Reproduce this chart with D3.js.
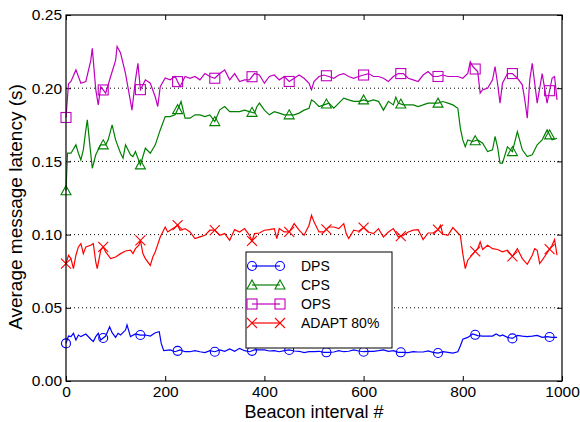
<!DOCTYPE html>
<html>
<head>
<meta charset="utf-8">
<script src="https://cdn.jsdelivr.net/npm/d3@7"></script>
<style>
  body { margin: 0; background: #fff; }
  svg { display: block; }
  text { font-family: "Liberation Sans", Arial, sans-serif; }
</style>
</head>
<body>
<div class="chart"></div>
<script>
// [beacon interval, latency (s)]
const dps = [[0,.0257],[5,.0307],[10,.0303],[15,.0326],[20,.028],[25,.0314],[30,.0303],[40,.0321],[50,.0285],[55,.0269],[60,.0303],[65,.0326],[70,.028],[80,.0307],[88,.0371],[93,.033],[100,.0298],[105,.0326],[110,.0314],[120,.0348],[123,.0383],[130,.0303],[140,.0321],[150,.0314],[160,.0314],[170,.0307],[180,.033],[188,.0337],[192,.0257],[197,.0207],[210,.0212],[220,.02],[230,.0212],[240,.02],[250,.02],[260,.0207],[270,.02],[280,.0194],[290,.0207],[300,.02],[310,.0212],[320,.0203],[330,.0219],[340,.0203],[350,.0223],[360,.0207],[370,.02],[380,.0212],[390,.0212],[400,.0212],[410,.0205],[420,.0207],[430,.02],[440,.0207],[450,.0212],[460,.0205],[470,.0203],[480,.0194],[490,.02],[500,.02],[510,.0203],[520,.0196],[530,.0196],[540,.0198],[550,.0207],[560,.02],[570,.0203],[580,.0212],[590,.0205],[600,.02],[610,.0203],[620,.0203],[630,.0207],[640,.0212],[650,.0203],[660,.0207],[670,.0196],[680,.0196],[690,.0194],[700,.02],[710,.0198],[720,.0198],[730,.0205],[740,.0196],[750,.0191],[760,.02],[770,.0196],[780,.0191],[790,.02],[795,.0239],[800,.0285],[810,.0298],[820,.0321],[830,.031],[840,.0307],[850,.0307],[860,.0307],[867,.0321],[875,.0307],[880,.0314],[890,.0298],[900,.0291],[910,.0312],[920,.0307],[930,.0303],[940,.0307],[950,.0312],[960,.0298],[970,.0303],[980,.0298],[990,.0298]]

const cps = [[0,.13],[3,.1556],[10,.1556],[20,.1613],[25,.1556],[30,.151],[35,.158],[40,.1715],[43,.1784],[47,.1647],[53,.1453],[60,.1545],[70,.1613],[80,.1613],[85,.1647],[93,.175],[100,.1647],[110,.1556],[115,.1522],[120,.1613],[130,.1545],[135,.1533],[140,.1567],[150,.1476],[160,.159],[170,.1556],[180,.1613],[190,.1715],[200,.1806],[210,.1806],[220,.1818],[228,.1875],[232,.1909],[240,.1795],[250,.1795],[260,.1818],[270,.1818],[280,.1806],[290,.1818],[300,.1772],[310,.1852],[320,.1875],[330,.184],[340,.184],[350,.184],[360,.185],[370,.184],[380,.183],[385,.1875],[390,.1898],[400,.185],[410,.1818],[420,.184],[430,.183],[440,.1818],[450,.1818],[460,.1818],[470,.183],[480,.185],[490,.1863],[495,.192],[500,.191],[510,.1875],[520,.1886],[530,.1898],[540,.1863],[550,.1898],[560,.1932],[570,.192],[580,.191],[590,.191],[600,.192],[610,.191],[620,.192],[630,.191],[640,.185],[650,.191],[660,.1886],[665,.1939],[670,.1898],[680,.1886],[690,.1886],[700,.1886],[710,.1875],[720,.1886],[730,.1898],[740,.1898],[750,.1898],[760,.1909],[770,.1898],[780,.1886],[790,.1863],[795,.1727],[800,.1647],[805,.16],[810,.1647],[820,.1636],[830,.1647],[840,.1624],[850,.1567],[860,.1579],[865,.167],[870,.16],[875,.1488],[880,.1488],[890,.16],[900,.1567],[910,.1704],[920,.1579],[930,.1533],[940,.1545],[950,.1613],[960,.1647],[970,.1715],[980,.1647],[990,.1658]]

const ops = [[0,.18],[5,.203],[10,.2046],[20,.2125],[30,.2034],[40,.2046],[50,.219],[53,.2273],[60,.199],[65,.1886],[70,.201],[80,.1966],[90,.208],[100,.219],[103,.2285],[110,.224],[120,.21],[130,.191],[133,.185],[140,.2057],[145,.217],[150,.199],[160,.2057],[170,.2034],[180,.194],[185,.1875],[190,.201],[200,.207],[210,.2057],[220,.208],[230,.201],[240,.208],[250,.2068],[260,.208],[270,.2057],[280,.21],[290,.208],[300,.2068],[310,.21],[320,.2125],[330,.2057],[340,.21],[350,.2046],[360,.2057],[370,.2057],[380,.21],[390,.209],[400,.2034],[410,.208],[420,.209],[430,.2057],[440,.208],[450,.2046],[460,.2068],[470,.209],[480,.2068],[490,.2034],[495,.199],[500,.2046],[510,.208],[520,.209],[530,.208],[540,.2068],[550,.209],[560,.21],[570,.208],[580,.2068],[590,.208],[600,.209],[610,.21],[620,.208],[630,.208],[640,.2068],[650,.2046],[660,.208],[670,.21],[680,.21],[690,.2068],[700,.2057],[710,.2046],[720,.209],[730,.2114],[740,.208],[750,.208],[760,.209],[770,.208],[780,.208],[790,.208],[800,.2068],[810,.21],[815,.218],[820,.2148],[830,.2114],[835,.1966],[840,.199],[850,.2],[860,.2057],[865,.2148],[870,.2034],[875,.1898],[880,.2034],[890,.21],[900,.21],[910,.2068],[920,.2023],[925,.192],[930,.1795],[935,.2057],[940,.217],[945,.2034],[950,.1898],[960,.21],[970,.1898],[980,.2068],[985,.208],[990,.192]]

const adapt = [[0,.0802],[5,.0859],[10,.0836],[15,.0768],[20,.0859],[25,.0916],[30,.0939],[35,.087],[40,.0916],[50,.0927],[55,.0939],[60,.0813],[63,.0768],[70,.0893],[75,.0916],[80,.0882],[90,.0836],[100,.0847],[110,.087],[120,.0888],[130,.0893],[135,.087],[140,.0904],[147,.0927],[150,.0961],[155,.087],[160,.0836],[170,.079],[175,.0847],[180,.0882],[190,.0984],[200,.1052],[205,.1018],[210,.103],[220,.1052],[225,.1064],[230,.103],[240,.1041],[250,.1018],[260,.0973],[270,.0984],[280,.0995],[290,.103],[300,.103],[310,.0995],[320,.1007],[330,.0961],[340,.1034],[350,.1018],[360,.1041],[370,.0995],[375,.0957],[380,.1007],[390,.1011],[400,.103],[410,.1034],[420,.1041],[425,.0973],[430,.1041],[440,.1018],[450,.1018],[460,.1075],[470,.103],[480,.0995],[490,.1064],[495,.1132],[500,.1087],[510,.1018],[520,.1018],[530,.1052],[540,.1052],[550,.1041],[560,.1075],[565,.1007],[570,.0973],[580,.103],[590,.1023],[600,.1048],[610,.1018],[620,.1007],[630,.1041],[640,.0984],[650,.1018],[660,.1041],[670,.0984],[680,.0995],[690,.1018],[700,.103],[710,.1034],[720,.0966],[730,.1011],[740,.1011],[750,.1034],[755,.1064],[760,.1002],[770,.0995],[780,.1048],[790,.1011],[795,.0995],[800,.087],[805,.0768],[810,.0825],[820,.0866],[830,.0904],[835,.095],[840,.0898],[850,.0927],[860,.0904],[870,.0898],[880,.0882],[890,.0893],[900,.0852],[910,.0904],[920,.0836],[930,.0797],[940,.0859],[945,.0904],[950,.0893],[955,.0802],[960,.0825],[970,.0875],[980,.0927],[985,.0966],[990,.0859]]

const seriesNames = ["DPS", "CPS", "OPS", "ADAPT 80%"]
const xTicks = [0, 200, 400, 600, 800, 1000]
const yTicks = [0, 0.05, 0.10, 0.15, 0.20, 0.25]
const markerEvery = 75

const series = [
  {name: seriesNames[0], data: dps, color: "#0000ff", mark: "circle"},
  {name: seriesNames[1], data: cps, color: "#008000", mark: "triangle"},
  {name: seriesNames[2], data: ops, color: "#bf00bf", mark: "square"},
  {name: seriesNames[3], data: adapt, color: "#ff0000", mark: "x"}
]

const margin = {top: 15, right: 18, bottom: 41, left: 66}
const width = 580 - margin.left - margin.right
const height = 422 - margin.top - margin.bottom

const svg = d3.select(".chart").append("svg").attr("width", 580).attr("height", 422)
const g = svg.append("g").attr("transform", `translate(${margin.left},${margin.top})`)

const x = d3.scaleLinear().domain([0, 1000]).range([0, width])
const y = d3.scaleLinear().domain([0, 0.25]).range([height, 0])

// dotted grid
g.selectAll(".grid").data(yTicks.slice(1, -1)).enter().append("line")
  .attr("x1", 0).attr("x2", width)
  .attr("y1", d => y(d)).attr("y2", d => y(d))
  .attr("stroke", "#000").attr("stroke-width", 1).attr("stroke-dasharray", "1,3")

function styleAxis(sel) {
  sel.select(".domain").remove()
  sel.selectAll("line").attr("stroke", "#000")
  sel.selectAll("text").attr("font-size", 15.5).attr("fill", "#000")
    .attr("font-family", "'Liberation Sans', Arial, sans-serif")
}

g.append("g").attr("transform", `translate(0,${height})`)
  .call(d3.axisBottom(x).tickValues(xTicks).tickFormat(d3.format("d")).tickSizeInner(-5).tickSizeOuter(0).tickPadding(5))
  .call(styleAxis)
g.append("g")
  .call(d3.axisTop(x).tickValues(xTicks).tickFormat("").tickSizeInner(-5).tickSizeOuter(0))
  .call(styleAxis)
g.append("g")
  .call(d3.axisLeft(y).tickValues(yTicks).tickFormat(d3.format(".2f")).tickSizeInner(-5).tickSizeOuter(0).tickPadding(4))
  .call(styleAxis)
g.append("g").attr("transform", `translate(${width},0)`)
  .call(d3.axisRight(y).tickValues(yTicks).tickFormat("").tickSizeInner(-5).tickSizeOuter(0))
  .call(styleAxis)

const line = d3.line().x(d => x(d[0])).y(d => y(d[1]))

function drawMark(sel, type, cx, cy, color) {
  const s = 5
  if (type === "circle") {
    sel.append("circle").attr("cx", cx).attr("cy", cy).attr("r", 4.5)
      .attr("fill", "none").attr("stroke", color).attr("stroke-width", 1.1)
  } else if (type === "square") {
    sel.append("rect").attr("x", cx - s).attr("y", cy - s).attr("width", 2 * s).attr("height", 2 * s)
      .attr("fill", "none").attr("stroke", color).attr("stroke-width", 1.1)
  } else if (type === "triangle") {
    sel.append("path").attr("d", `M${cx},${cy - s}L${cx + s},${cy + s * 0.8}L${cx - s},${cy + s * 0.8}Z`)
      .attr("fill", "none").attr("stroke", color).attr("stroke-width", 1.1)
  } else {
    sel.append("path").attr("d", `M${cx - s},${cy - s}L${cx + s},${cy + s}M${cx - s},${cy + s}L${cx + s},${cy - s}`)
      .attr("fill", "none").attr("stroke", color).attr("stroke-width", 1.1)
  }
}

const bis = d3.bisector(d => d[0]).left
function valueAt(data, xv) {
  const i = bis(data, xv)
  if (i <= 0) return data[0][1]
  if (i >= data.length) return data[data.length - 1][1]
  const a = data[i - 1], b = data[i]
  return a[1] + (b[1] - a[1]) * (xv - a[0]) / (b[0] - a[0])
}

const plot = g.append("g")
series.forEach(s => {
  plot.append("path").datum(s.data).attr("d", line)
    .attr("fill", "none").attr("stroke", s.color).attr("stroke-width", 1.2)
  const mg = plot.append("g")
  d3.range(0, 1000, markerEvery).forEach(xv => drawMark(mg, s.mark, x(xv), y(valueAt(s.data, xv)), s.color))
})

// frame
g.append("rect").attr("width", width).attr("height", height)
  .attr("fill", "none").attr("stroke", "#000").attr("stroke-width", 1.2)

// axis titles
svg.append("text").attr("x", margin.left + width / 2).attr("y", 418)
  .attr("text-anchor", "middle").attr("font-size", 18).text("Beacon interval #")
svg.append("text").attr("transform", "translate(22,207) rotate(-90)")
  .attr("text-anchor", "middle").attr("font-size", 19).text("Average message latency (s)")

// legend
const lg = svg.append("g").attr("transform", "translate(246,252)")
lg.append("rect").attr("width", 146).attr("height", 96)
  .attr("fill", "#fff").attr("stroke", "#000").attr("stroke-width", 1)
series.forEach((s, i) => {
  const cy = 14 + i * 19
  lg.append("line").attr("x1", 6).attr("x2", 34).attr("y1", cy).attr("y2", cy)
    .attr("stroke", s.color).attr("stroke-width", 1.2)
  drawMark(lg, s.mark, 6, cy, s.color)
  drawMark(lg, s.mark, 34, cy, s.color)
  lg.append("text").attr("x", 55).attr("y", cy + 5).attr("font-size", 14).text(s.name)
})
</script>
</body>
</html>
